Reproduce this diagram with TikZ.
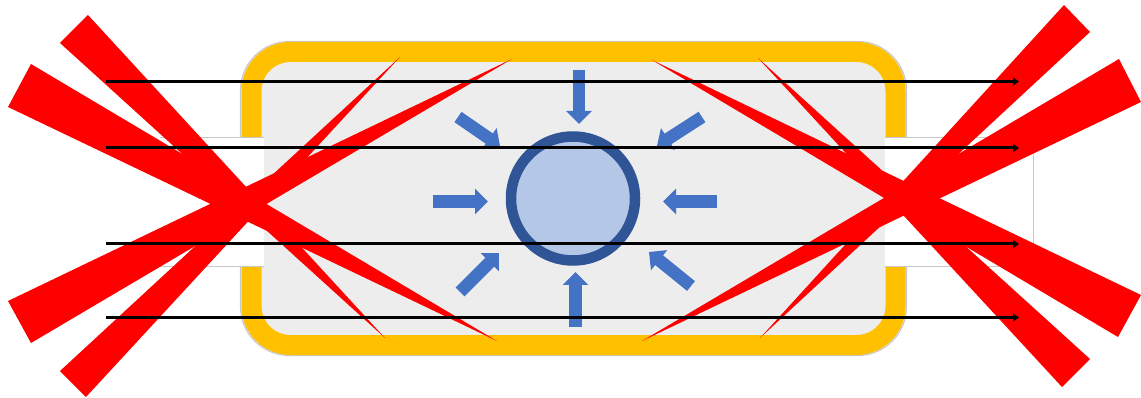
\documentclass[tikz,border=0pt]{standalone}
\usetikzlibrary{arrows.meta}
\definecolor{boxyellow}{HTML}{FFC000}
\definecolor{boxgray}{HTML}{EDEDED}
\definecolor{arrowblue}{HTML}{4472C4}
\definecolor{ringblue}{HTML}{2F5597}
\definecolor{coreblue}{HTML}{B4C7E7}
\definecolor{beamred}{HTML}{FF0000}
\definecolor{edgegray}{HTML}{C8C8C8}
\begin{document}
\begin{tikzpicture}[x=1pt,y=-1pt,
  beam/.style={fill=beamred},
  inarrow/.style={draw=arrowblue, line width=12.5pt, -{Triangle[width=25pt,length=13pt]}},
  ray/.style={draw=black, line width=3pt, -{Triangle[width=8pt,length=6pt]}},
  portline/.style={draw=edgegray, line width=0.8pt}]
\useasboundingbox (0,0) rectangle (1141,398);
% housing
\fill[boxgray, rounded corners=48pt] (241,42) rectangle (906,355);
\draw[edgegray, line width=1.2pt, rounded corners=49pt] (240.5,41.5) rectangle (906.5,355.5);
\draw[boxyellow, line width=20pt, rounded corners=39pt] (251.5,52) rectangle (895.5,345);
% side ports
\fill[white] (160,137) rectangle (264,266);
\fill[white] (885,137) rectangle (1033,266);
\draw[portline] (160,137) -- (264,137);
\draw[portline] (160,266) -- (264,266);
\draw[portline] (885,137) -- (1033,137) -- (1033,266) -- (885,266);
% red beams left
\fill[beam] (88,15) -- (60,43) -- (385,338) -- cycle;
\fill[beam] (31,64) -- (8,107) -- (497,341) -- cycle;
\fill[beam] (8,301) -- (31,343) -- (512,59) -- cycle;
\fill[beam] (60,371) -- (86,397) -- (400,57) -- cycle;
% red beams right
\fill[beam] (1064,5) -- (1090,32) -- (760,338) -- cycle;
\fill[beam] (1119,59) -- (1141,102) -- (642,341) -- cycle;
\fill[beam] (1141,295) -- (1118,337) -- (652,60) -- cycle;
\fill[beam] (1090,359) -- (1062,387) -- (758,58) -- cycle;
% core
\coordinate (core) at (573,198.5);
\draw[draw=ringblue, fill=coreblue, line width=10.5pt] (core) circle[radius=62];
% inward arrows
\coordinate (nS) at (579,70);    \coordinate (nE) at (579,124);
\coordinate (sS) at (575.5,327); \coordinate (sE) at (575.5,272);
\coordinate (wS) at (433,201.5); \coordinate (wE) at (488,201.5);
\coordinate (eS) at (717,201.5); \coordinate (eE) at (663,201.5);
\coordinate (nwS) at (458,117);  \coordinate (nwE) at (500,146);
\coordinate (neS) at (702,117);  \coordinate (neE) at (657,146);
\coordinate (swS) at (460,292);  \coordinate (swE) at (499,253);
\coordinate (seS) at (691,286);  \coordinate (seE) at (649,252);
\foreach \a in {n,s,w,e,nw,ne,sw,se} {\draw[inarrow] (\a S) -- (\a E);}
% through rays
\coordinate (r1a) at (106,81.5);  \coordinate (r1b) at (1019,81.5);
\coordinate (r2a) at (106,148);   \coordinate (r2b) at (1019,148);
\coordinate (r3a) at (106,244);   \coordinate (r3b) at (1019,244);
\coordinate (r4a) at (106,317.5); \coordinate (r4b) at (1019,317.5);
\foreach \r in {1,2,3,4} {\draw[ray] (r\r a) -- (r\r b);}
\end{tikzpicture}
\end{document}
